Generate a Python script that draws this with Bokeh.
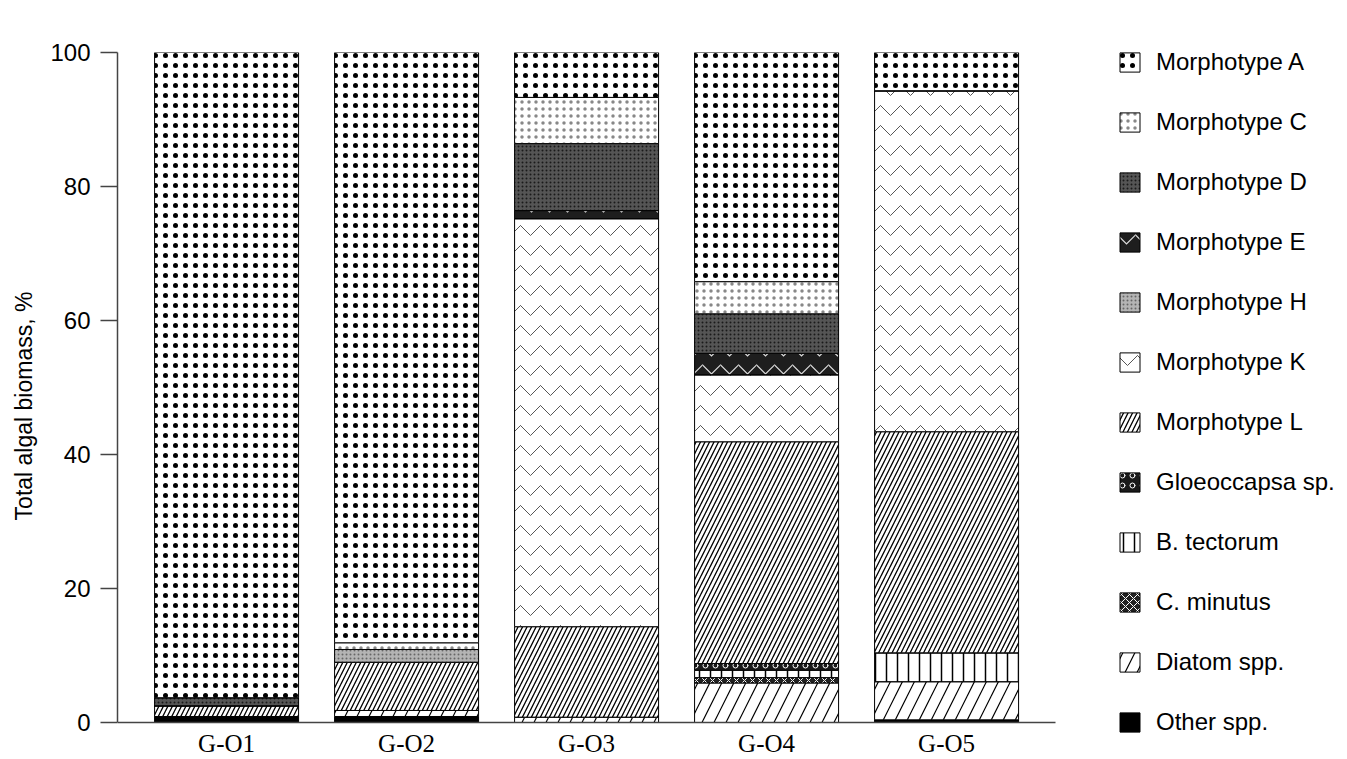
from bokeh.plotting import figure
from bokeh.models import ColumnDataSource, Legend, LegendItem, Label, FixedTicker
from bokeh.embed import file_html
from bokeh.resources import INLINE

# Sites (stacked bars) and species shares of total algal biomass, %
sites = ["G-O1", "G-O2", "G-O3", "G-O4", "G-O5"]

other_spp   = [0.9, 0.9, 0.0, 0.0, 0.4]
diatom_spp  = [0.0, 0.9, 0.8, 5.9, 5.7]
c_minutus   = [0.0, 0.0, 0.0, 0.8, 0.0]
b_tectorum  = [0.0, 0.0, 0.0, 1.1, 4.3]
gloeocapsa  = [0.0, 0.0, 0.0, 1.0, 0.0]
morph_l     = [1.6, 7.2, 13.5, 33.1, 33.0]
morph_k     = [0.0, 0.0, 60.9, 10.0, 50.9]
morph_h     = [0.0, 1.9, 0.0, 0.0, 0.0]
morph_e     = [0.0, 0.0, 1.2, 3.2, 0.0]
morph_d     = [1.2, 0.0, 10.0, 5.9, 0.0]
morph_c     = [0.0, 1.0, 6.9, 4.8, 0.0]
morph_a     = [96.3, 88.1, 6.7, 34.2, 5.7]

# bottom -> top stacking order
series = [
    ("Other spp.", other_spp),
    ("Diatom spp.", diatom_spp),
    ("C. minutus", c_minutus),
    ("B. tectorum", b_tectorum),
    ("Gloeoccapsa sp.", gloeocapsa),
    ("Morphotype L", morph_l),
    ("Morphotype K", morph_k),
    ("Morphotype H", morph_h),
    ("Morphotype E", morph_e),
    ("Morphotype D", morph_d),
    ("Morphotype C", morph_c),
    ("Morphotype A", morph_a),
]

y_ticks = [0, 20, 40, 60, 80, 100]

# fill / hatch styling for each series
styles = {
    "Other spp.":      dict(fill_color="black", hatch_pattern=" ", hatch_color="black", hatch_scale=8, hatch_weight=1),
    "Diatom spp.":     dict(fill_color="white", hatch_pattern="/", hatch_color="black", hatch_scale=24, hatch_weight=1.2),
    "C. minutus":      dict(fill_color="#222222", hatch_pattern="x", hatch_color="white", hatch_scale=8, hatch_weight=1),
    "B. tectorum":     dict(fill_color="white", hatch_pattern="|", hatch_color="black", hatch_scale=11, hatch_weight=1.5),
    "Gloeoccapsa sp.": dict(fill_color="#1a1a1a", hatch_pattern="o", hatch_color="white", hatch_scale=10, hatch_weight=1),
    "Morphotype L":    dict(fill_color="white", hatch_pattern="/", hatch_color="black", hatch_scale=9, hatch_weight=1.3),
    "Morphotype K":    dict(fill_color="white", hatch_pattern="v", hatch_color="#555555", hatch_scale=20, hatch_weight=1),
    "Morphotype H":    dict(fill_color="#b4b4b4", hatch_pattern=".", hatch_color="#666666", hatch_scale=4, hatch_weight=1),
    "Morphotype E":    dict(fill_color="#1e1e1e", hatch_pattern="v", hatch_color="#dddddd", hatch_scale=18, hatch_weight=1.2),
    "Morphotype D":    dict(fill_color="#555555", hatch_pattern=".", hatch_color="#1a1a1a", hatch_scale=4, hatch_weight=1),
    "Morphotype C":    dict(fill_color="white", hatch_pattern=".", hatch_color="#888888", hatch_scale=7, hatch_weight=1),
    "Morphotype A":    dict(fill_color="white", hatch_pattern=".", hatch_color="black", hatch_scale=10, hatch_weight=4.5),
}

sans = "Liberation Sans"
names = [n for n, _ in series]
style_cols = {k: [styles[n][k] for n in names]
              for k in ["fill_color", "hatch_pattern", "hatch_color", "hatch_scale", "hatch_weight"]}

x_pos = list(range(1, len(sites) + 1))
data = {"x": x_pos}
for name, vals in series:
    data[name] = vals
source = ColumnDataSource(data)

# The frame spans to the right edge (room for the key) and down to the
# bottom edge; the axes are pinned to the data extent with bounds.
p = figure(
    width=1347, height=759,
    x_range=(0.394, 7.2273), y_range=(-5.52, 100),
    output_backend="svg", toolbar_location=None,
    min_border_left=117, min_border_right=0,
    min_border_top=52, min_border_bottom=0,
)

renderers = p.vbar_stack(
    names, x="x", width=0.8, source=source,
    line_color="black", line_width=1, **style_cols,
)

# key: top of stack first
items = [LegendItem(label=n, renderers=[r]) for n, r in zip(names, renderers)][::-1]
legend = Legend(
    items=items, location=(1000, 20),
    glyph_width=25, glyph_height=24, label_height=34, spacing=26,
    padding=0, margin=0, label_standoff=14,
    label_text_font=sans, label_text_font_size="24px", label_text_color="black",
    background_fill_alpha=0, border_line_color=None,
)
p.add_layout(legend, "center")

# title over the middle bar
p.add_layout(Label(
    x=3, y=102.6, text="Orange Algae", text_align="center", text_baseline="bottom",
    text_font=sans, text_font_size="25px", text_font_style="italic",
))

p.grid.visible = False
p.outline_line_color = None
p.background_fill_color = "white"
p.border_fill_color = "white"

# y axis
p.yaxis.bounds = (0, 100)
p.yaxis.ticker = FixedTicker(ticks=y_ticks)
p.yaxis.major_tick_out = 17
p.yaxis.major_tick_in = 0
p.yaxis.minor_tick_line_color = None
p.yaxis.axis_line_color = "#444444"
p.yaxis.axis_line_width = 1.5
p.yaxis.major_tick_line_color = "#444444"
p.yaxis.major_tick_line_width = 1.5
p.yaxis.major_label_text_font = sans
p.yaxis.major_label_text_font_size = "24px"
p.yaxis.major_label_text_color = "black"
p.yaxis.major_label_standoff = 10
p.yaxis.axis_label = "Total algal biomass, %"
p.yaxis.axis_label_text_font = sans
p.yaxis.axis_label_text_font_size = "23px"
p.yaxis.axis_label_text_font_style = "normal"
p.yaxis.axis_label_text_color = "black"
p.yaxis.axis_label_standoff = 10

# x axis, pinned at zero
p.xaxis.fixed_location = 0
p.xaxis.bounds = (0.394, 5.606)
p.xaxis.ticker = FixedTicker(ticks=x_pos)
p.xaxis.major_label_overrides = {i: s for i, s in zip(x_pos, sites)}
p.xaxis.major_tick_line_color = None
p.xaxis.minor_tick_line_color = None
p.xaxis.axis_line_color = "#444444"
p.xaxis.axis_line_width = 1.5
p.xaxis.major_label_text_font = "Liberation Serif"
p.xaxis.major_label_text_font_size = "25px"
p.xaxis.major_label_text_color = "black"
p.xaxis.major_label_standoff = 1

open("out.html", "w").write(file_html(p, INLINE))
